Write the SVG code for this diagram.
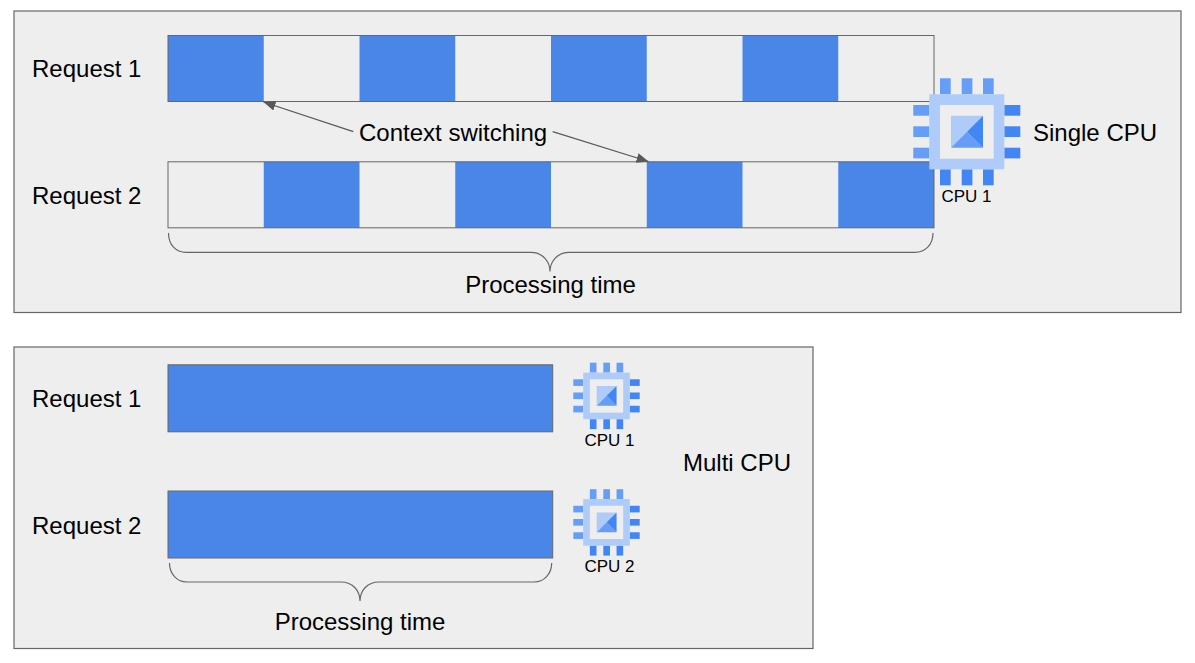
<svg xmlns="http://www.w3.org/2000/svg" width="1195" height="663" viewBox="0 0 1195 663">
<style>
.panel{fill:#eeeeee;stroke:#666666;stroke-width:1.2}
.bar{fill:none;stroke:#666666;stroke-width:1}
.blue{fill:#4a86e8}
.solid{fill:#4a86e8;stroke:#666666;stroke-width:1}
.t{font-family:"Liberation Sans",Arial,sans-serif;font-size:24px;fill:#000000}
.s{font-family:"Liberation Sans",Arial,sans-serif;font-size:17px;fill:#000000;text-anchor:middle}
.m{text-anchor:middle}
.line{fill:none;stroke:#595959;stroke-width:1.3}
.brace{fill:none;stroke:#666666;stroke-width:1.2}
</style>
<defs>
<marker id="arrow" markerUnits="userSpaceOnUse" markerWidth="14" markerHeight="12" refX="12" refY="5" orient="auto">
<path d="M0 0L12 5L0 10Z" fill="#595959"/>
</marker>
<symbol id="chip" viewBox="0 0 107 107" overflow="visible">
<g fill="#669df6">
<rect x="26.7" y="0" width="10.7" height="16"/><rect x="48.4" y="0" width="10.7" height="16"/><rect x="69.7" y="0" width="10.7" height="16"/>
<rect x="0" y="26.7" width="16" height="10.7"/><rect x="0" y="48" width="16" height="10.7"/><rect x="0" y="69.4" width="16" height="10.7"/>
</g>
<g fill="#4285f4">
<rect x="26.7" y="91" width="10.7" height="16"/><rect x="48.4" y="91" width="10.7" height="16"/><rect x="69.7" y="91" width="10.7" height="16"/>
<rect x="91" y="26.7" width="16" height="10.7"/><rect x="91" y="48" width="16" height="10.7"/><rect x="91" y="69.4" width="16" height="10.7"/>
</g>
<rect x="16" y="16" width="75" height="75" fill="#aecbfa"/>
<rect x="26.7" y="26.7" width="53.7" height="53.7" fill="#eeeeee"/>
<path d="M37.7 37.4H69.7L37.7 69.4Z" fill="#aecbfa"/>
<path d="M37.7 69.4L53.7 53.4L69.7 69.4Z" fill="#669df6"/>
<path d="M69.7 37.4V69.4L53.7 53.4Z" fill="#4285f4"/>
</symbol>
</defs>

<g id="panel-single"><rect class="panel" x="14" y="11" width="1167" height="301.5"/></g>
<g id="panel-multi"><rect class="panel" x="14" y="347" width="799" height="301.5"/></g>

<g id="single-request-1">
<text class="t" x="32" y="77">Request 1</text>
<rect class="blue" x="168" y="35.5" width="95.75" height="66"/>
<rect class="blue" x="359.5" y="35.5" width="95.75" height="66"/>
<rect class="blue" x="551" y="35.5" width="95.75" height="66"/>
<rect class="blue" x="742.5" y="35.5" width="95.75" height="66"/>
<rect class="bar" x="168" y="35.5" width="766" height="66"/>
</g>
<g id="single-request-2">
<text class="t" x="32" y="204">Request 2</text>
<rect class="blue" x="263.75" y="161.8" width="95.75" height="66"/>
<rect class="blue" x="455.25" y="161.8" width="95.75" height="66"/>
<rect class="blue" x="646.75" y="161.8" width="95.75" height="66"/>
<rect class="blue" x="838.25" y="161.8" width="95.75" height="66"/>
<rect class="bar" x="168" y="161.8" width="766" height="66"/>
</g>
<g id="cpu-single">
<use href="#chip" x="913.3" y="78.3" width="107" height="107"/>
<text class="s" x="966.5" y="202">CPU 1</text>
</g>
<g id="label-single"><text class="t" x="1033" y="141">Single CPU</text></g>
<g id="label-context"><text class="t" x="359" y="141">Context switching</text></g>
<g id="label-time-1"><text class="t m" x="550.5" y="293">Processing time</text></g>

<g id="multi-request-1">
<text class="t" x="32" y="407">Request 1</text>
<rect class="solid" x="168" y="364.8" width="384.7" height="67"/>
</g>
<g id="multi-request-2">
<text class="t" x="32" y="534">Request 2</text>
<rect class="solid" x="168" y="491" width="384.7" height="67"/>
</g>
<g id="cpu-multi-1">
<use href="#chip" x="573.3" y="362.7" width="66.4" height="66.4"/>
<text class="s" x="609.5" y="446">CPU 1</text>
</g>
<g id="cpu-multi-2">
<use href="#chip" x="573.3" y="489.2" width="66.4" height="66.4"/>
<text class="s" x="609.5" y="572">CPU 2</text>
</g>
<g id="label-multi"><text class="t" x="683" y="471">Multi CPU</text></g>
<g id="label-time-2"><text class="t m" x="360" y="630">Processing time</text></g>

<g id="connectors">
<path class="line" d="M353.3 131.7L263.5 102" marker-end="url(#arrow)"/>
<path class="line" d="M552.7 131.7L648.5 161.5" marker-end="url(#arrow)"/>
<path class="brace" d="M168.5 233C168.5 245 176 252.3 186 252.3H531C543 252.3 550 262 550 271.5C550 262 557 252.3 569 252.3H915C925 252.3 933 245 933 233"/>
<path class="brace" d="M169.5 563C169.5 574 177 582 187 582H341C353 582 360 591 360 601C360 591 367 582 379 582H534C544 582 551.7 574 551.7 563"/>
</g>
</svg>
